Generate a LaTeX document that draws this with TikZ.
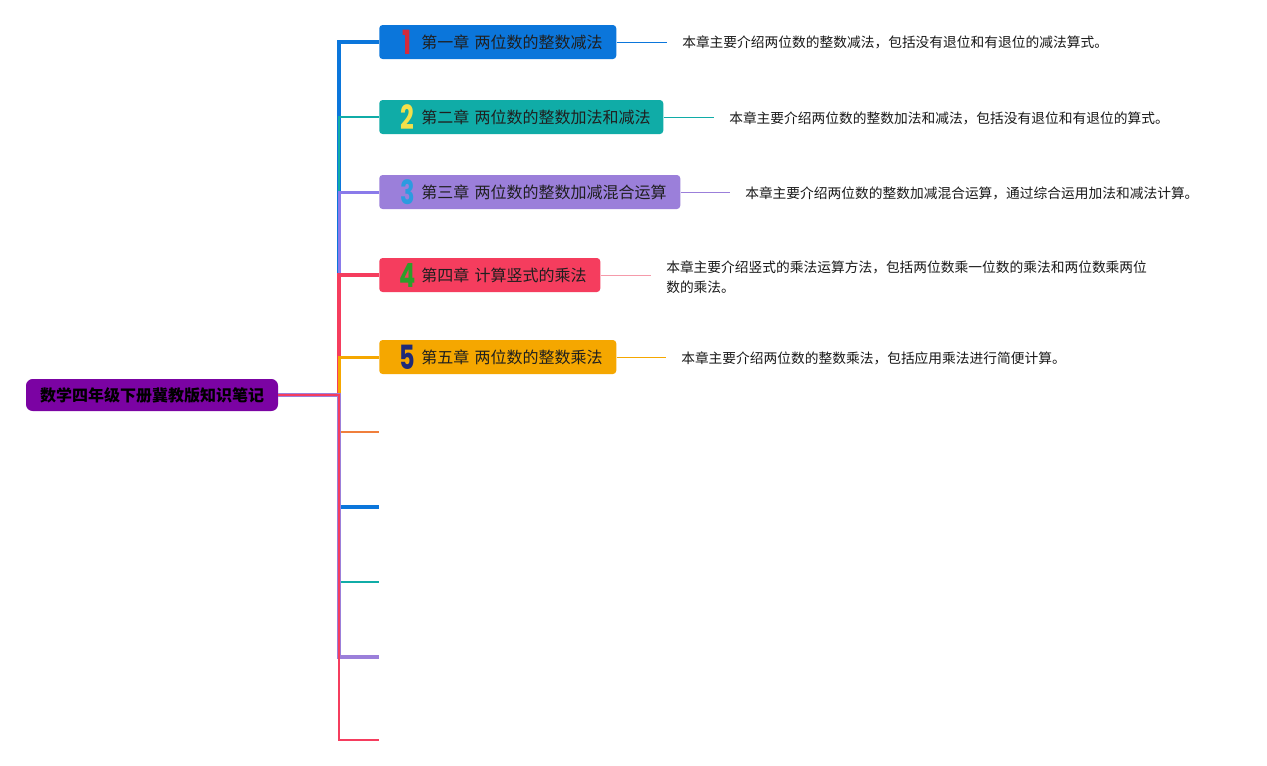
\documentclass[tikz,border=0pt]{standalone}
\usepackage{fontspec}
\setmainfont{Noto Sans CJK SC}
\newfontfamily\digitfont{Poppins}[UprightFont=* Bold]
\usepackage{graphicx}
\definecolor{cblue}{HTML}{0B76DB}
\definecolor{cteal}{HTML}{10ACA7}
\definecolor{cpurple}{HTML}{9B7FDA}
\definecolor{cred}{HTML}{F53D5E}
\definecolor{cgold}{HTML}{F5A700}
\definecolor{corange}{HTML}{F07F3C}
\definecolor{croot}{HTML}{7B03A3}
\definecolor{cpink}{HTML}{F59AAA}
\definecolor{dred}{HTML}{D42A3C}
\definecolor{dyellow}{HTML}{F4E04A}
\definecolor{dblue}{HTML}{2C9BE0}
\definecolor{dgreen}{HTML}{2E9E2A}
\definecolor{dnavy}{HTML}{1E2A78}
\newcommand{\chapnum}[3]{\hspace*{16pt}\makebox[10pt][c]{\scalebox{0.72}[1]{\digitfont\fontsize{25}{25}\selectfont\color{#1}#2}}\hspace{5.5pt}\raisebox{4.5pt}{#3}}
\begin{document}
\begin{tikzpicture}[x=0.75pt,y=-0.75pt,
  chapbox/.style={rounded corners=2.5pt, inner xsep=0pt, inner ysep=0pt, minimum height=25.5pt, align=left, anchor=west, font=\fontsize{12}{14}\selectfont, text=black!88},
  rootbox/.style={rounded corners=5pt, fill=croot, minimum width=189pt, minimum height=24pt, inner sep=0pt, font=\bfseries\fontsize{12}{14}\selectfont, text=black},
  desc/.style={anchor=west, font=\fontsize{10.3}{15}\selectfont, inner sep=0pt, align=left, text=black!90},
  dline/.style={line width=0.75pt, shorten >=11pt},
  br/.style={line join=miter}]
\useasboundingbox (0,0) rectangle (1267,765);
\fill[white] (0,0) rectangle (1267,765);

\node[rootbox] (root) at (152,395) {数学四年级下册冀教版知识笔记};
\coordinate (j) at (339,395);

\node[chapbox, fill=cblue, text width=177.75pt] (c1) at (379,42) {\chapnum{dred}{1}{第一章 两位数的整数减法}};
\node[chapbox, fill=cteal, text width=213pt] (c2) at (379,117) {\chapnum{dyellow}{2}{第二章 两位数的整数加法和减法}};
\node[chapbox, fill=cpurple, text width=225.75pt] (c3) at (379,192) {\chapnum{dblue}{3}{第三章 两位数的整数加减混合运算}};
\node[chapbox, fill=cred, text width=165.75pt] (c4) at (379,275) {\chapnum{dgreen}{4}{第四章 计算竖式的乘法}};
\node[chapbox, fill=cgold, text width=177.75pt] (c5) at (379,357) {\chapnum{dnavy}{5}{第五章 两位数的整数乘法}};

\coordinate (e6) at (379,432);
\coordinate (e7) at (379,507);
\coordinate (e8) at (379,582);
\coordinate (e9) at (379,657);
\coordinate (e10) at (379,740);

\draw[br, cblue, line width=3pt] (root.east) -- (j) |- (c1.west);
\draw[br, cteal, line width=1.5pt] (root.east) -- (j) |- (c2.west);
\draw[br, cpurple!70!blue!80!white, line width=2.25pt] (root.east) -- (j) |- (c3.west);
\draw[br, cred, line width=2.6pt] (root.east) -- (j) |- (c4.west);
\draw[br, cgold, line width=2.25pt] (root.east) -- (j) |- (c5.west);
\draw[br, corange, line width=1.9pt] (root.east) -- (j) |- (e6);
\draw[br, cblue, line width=2.6pt] (root.east) -- (j) |- (e7);
\draw[br, cteal, line width=1.9pt] (root.east) -- (j) |- (e8);
\draw[br, cpurple, line width=2.6pt] (root.east) -- (j) |- (e9);
\draw[br, cred, line width=1.9pt] (root.east) -- (j) |- (e10);

\node[desc] (t1) at (682,42) {本章主要介绍两位数的整数减法，包括没有退位和有退位的减法算式。};
\node[desc] (t2) at (729,118) {本章主要介绍两位数的整数加法和减法，包括没有退位和有退位的算式。};
\node[desc] (t3) at (745,193) {本章主要介绍两位数的整数加减混合运算，通过综合运用加法和减法计算。};
\node[desc] (t4) at (666,277) {本章主要介绍竖式的乘法运算方法，包括两位数乘一位数的乘法和两位数乘两位\\数的乘法。};
\node[desc] (t5) at (681,358) {本章主要介绍两位数的整数乘法，包括应用乘法进行简便计算。};

\draw[dline, cblue] (c1.east) -- (c1.east -| t1.west);
\draw[dline, cteal] (c2.east) -- (c2.east -| t2.west);
\draw[dline, cpurple] (c3.east) -- (c3.east -| t3.west);
\draw[dline, cpink] (c4.east) -- (c4.east -| t4.west);
\draw[dline, cgold] (c5.east) -- (c5.east -| t5.west);
\end{tikzpicture}
\end{document}
